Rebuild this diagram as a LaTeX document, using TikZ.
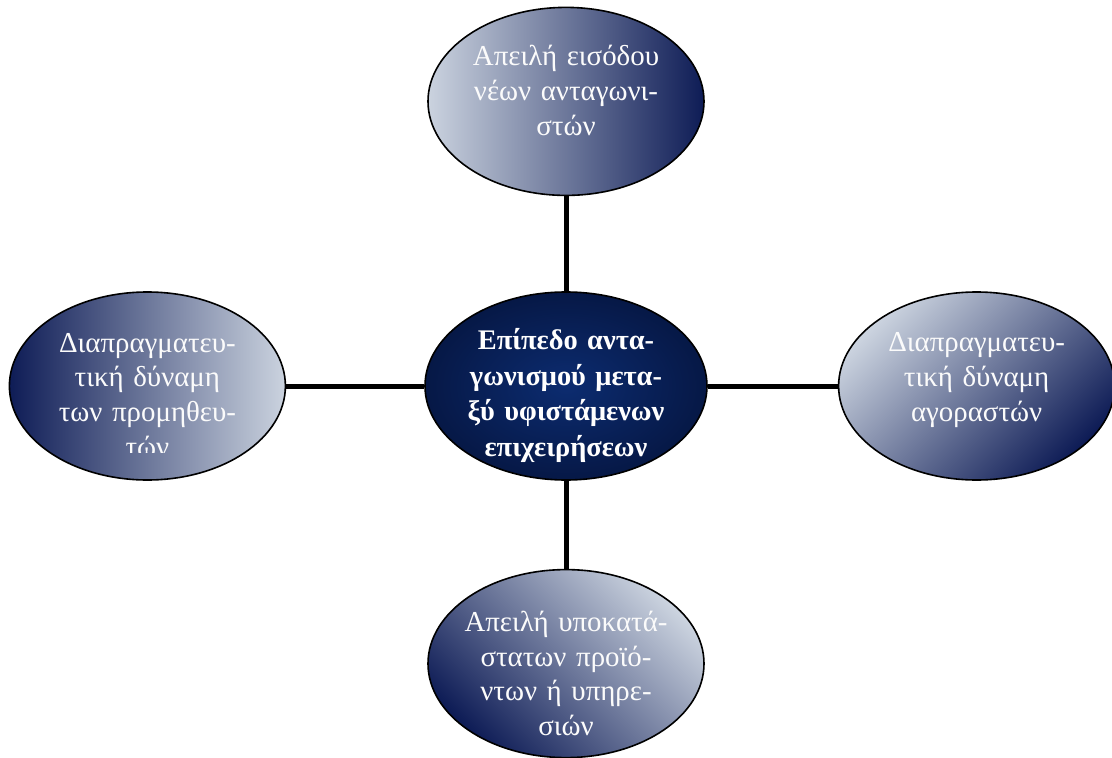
\documentclass[tikz,border=0pt]{standalone}
\usepackage{fontspec}
\setmainfont{Liberation Serif}
\usepackage{tikz}
\usetikzlibrary{positioning, shapes.geometric}

\definecolor{forcelight}{RGB}{203,211,223}
\definecolor{forcedark}{RGB}{14,28,86}
\definecolor{hubin}{RGB}{12,44,112}
\definecolor{hubout}{RGB}{6,24,70}

\begin{document}
\begin{tikzpicture}[
    x=1bp, y=-1bp,
    forcetext/.style={inner xsep=-30bp, inner ysep=-30bp, text width=220bp, align=center,
                  text=white!97!gray, font=\fontsize{29}{35}\selectfont},
    force/.style={forcetext, ellipse, draw, line width=1.6bp, minimum width=276bp, minimum height=188bp,
                  top color=forcelight, bottom color=forcedark},
    hub/.style={force, minimum width=282bp, inner color=hubin, outer color=hubout,
                text=white, font=\fontsize{28.5}{35.5}\selectfont\bfseries},
    link/.style={line width=5bp}
]
\useasboundingbox (0,0) rectangle (1112,758);

% centre
\node[hub] (rivalry) at (566,386) {\rule{0pt}{40bp}Επίπεδο αντα-\\γωνισμού μετα-\\ξύ υφιστάμενων\\επιχειρήσεων};

% the four forces
\node[force, shading angle=90, above=95bp of rivalry] (entrants) {Απειλή εισόδου\\νέων ανταγωνι-\\στών\par\vspace{22bp}};
\node[force, shading angle=-45, below=88bp of rivalry] (substitutes) {\rule{0pt}{40bp}Απειλή υποκατά-\\στατων προϊό-\\ντων ή υπηρε-\\σιών};
\node[force, shading angle=45, right=130bp of rivalry] (buyers) {Διαπραγματευ-\\τική δύναμη\\αγοραστών\par\vspace{12bp}};
\node[force, shading angle=-90, left=138bp of rivalry] (suppliers) {};

% suppliers text runs past its box
\begin{scope}
  \clip (suppliers.west |- suppliers.north) rectangle ([yshift=-66bp]suppliers.east);
  \node[forcetext] at ([yshift=-9bp]suppliers.center) (supplierstext)
    {Διαπραγματευ-\\τική δύναμη\\των προμηθευ-\\τών};
\end{scope}

% connectors
\draw[link] (entrants) -- (rivalry);
\draw[link] (rivalry) -- (substitutes);
\draw[link] (suppliers) -- (rivalry);
\draw[link] (rivalry) -- (buyers);

\end{tikzpicture}
\end{document}
